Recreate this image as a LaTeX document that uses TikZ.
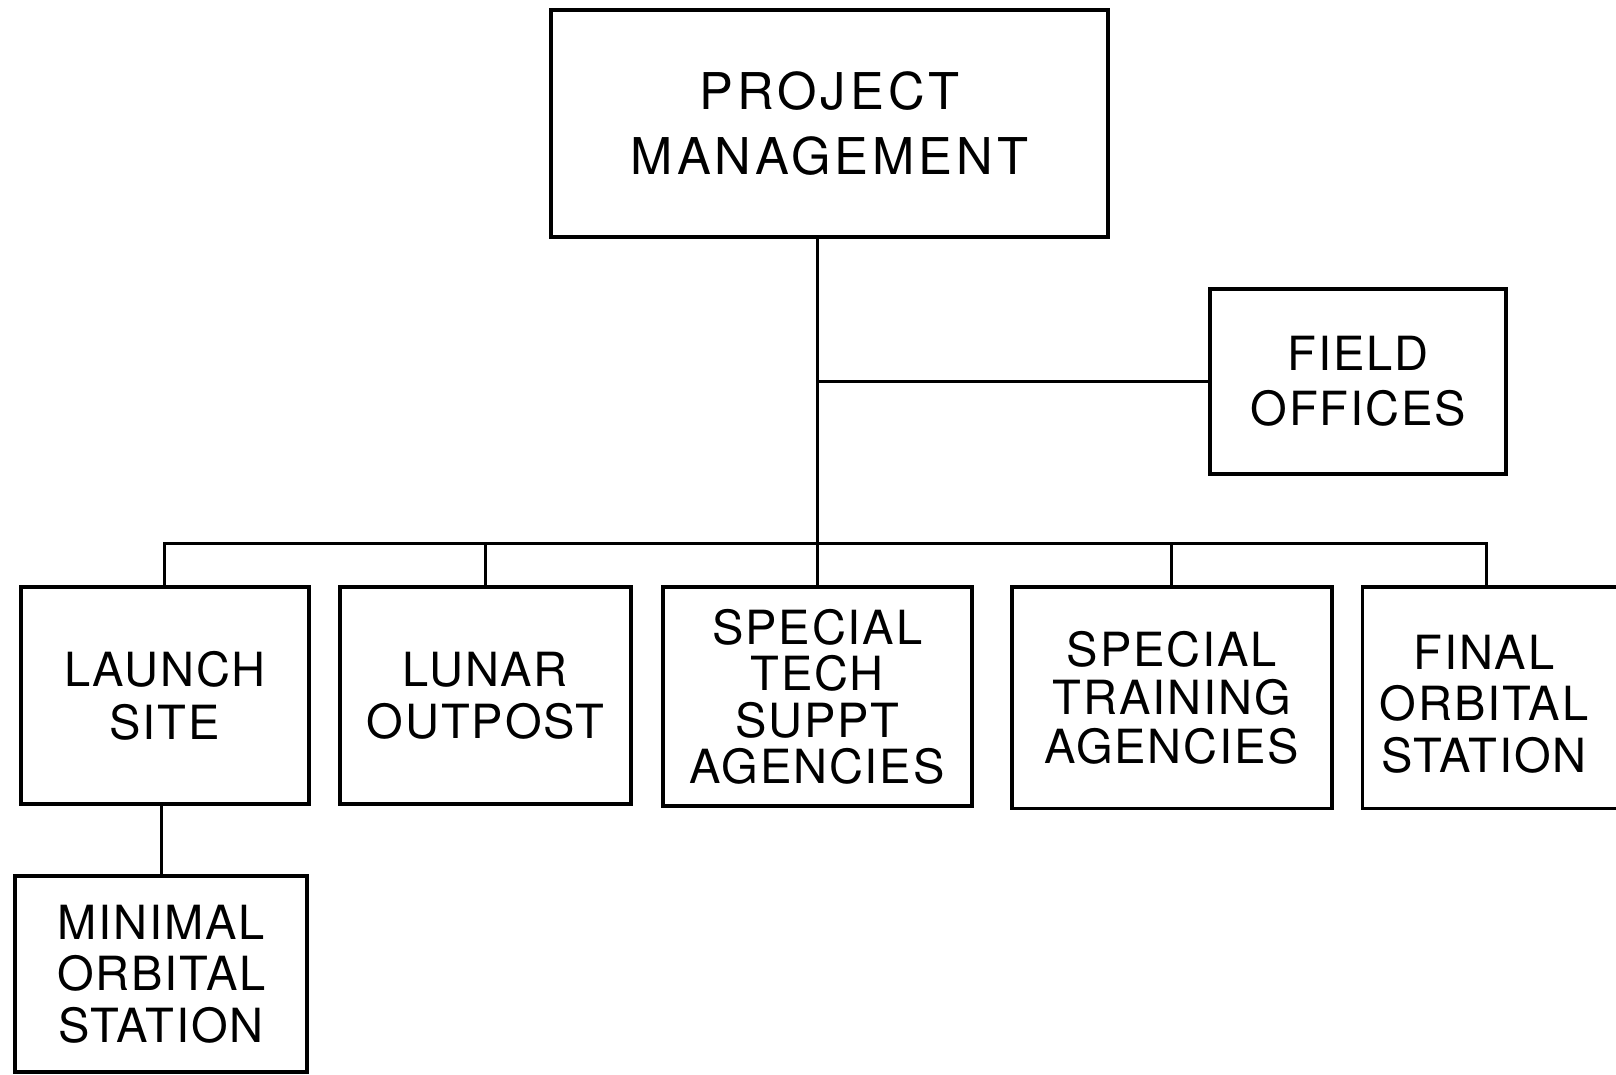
\documentclass[tikz,border=0pt]{standalone}
\usepackage{fontspec}
\usepackage{tikz}
\newfontfamily\chartfont[LetterSpace=4]{TeX Gyre Heros}
\newfontfamily\titlefont[LetterSpace=8]{TeX Gyre Heros}

\begin{document}
\begin{tikzpicture}[
  unit/.style={draw, line width=1.1pt, align=center, inner sep=0pt, font=\chartfont\fontsize{13}{14.5}\selectfont},
  tag/.style={align=center, inner sep=0pt, font=\chartfont\fontsize{13}{14.2}\selectfont},
  link/.style={line width=0.85pt}]
\useasboundingbox (0,0) rectangle (15.68,10.43);
\clip (0,0) rectangle (15.68,10.43);

\node[unit, minimum width=5.4cm, minimum height=2.2cm, font=\titlefont\fontsize{14}{18}\selectfont] (pm) at (8.05,9.23) {PROJECT\\MANAGEMENT};
\node[unit, minimum width=2.87cm, minimum height=1.8cm, font=\chartfont\fontsize{13}{15}\selectfont] (fo) at (13.18,6.73) {FIELD\\OFFICES};

\node[unit, minimum width=2.8cm, minimum height=2.1cm, font=\chartfont\fontsize{13}{14.8}\selectfont] (launch) at (1.60,3.68) {LAUNCH\\SITE};
\node[unit, minimum width=2.82cm, minimum height=2.1cm] (lunar) at (4.71,3.68) {LUNAR\\OUTPOST};
\node[unit, minimum width=3.0cm, minimum height=2.12cm, font=\chartfont\fontsize{13}{12.8}\selectfont] (tech) at (7.93,3.67) {SPECIAL\\TECH\\SUPPT\\AGENCIES};
\node[unit, minimum width=3.1cm, minimum height=2.15cm, font=\chartfont\fontsize{13}{13.4}\selectfont] (training) at (11.37,3.66) {SPECIAL\\TRAINING\\AGENCIES};
\node[unit, minimum width=2.7cm, minimum height=2.15cm, label={[tag, xshift=-1.7mm, yshift=-0.6mm]center:FINAL\\ORBITAL\\STATION}] (final) at (14.57,3.66) {};
\node[unit, minimum width=2.83cm, minimum height=1.9cm, font=\chartfont\fontsize{13}{14.2}\selectfont] (minimal) at (1.565,0.98) {MINIMAL\\ORBITAL\\STATION};

\coordinate (bus) at (7.93,5.16);
\draw[link] (pm.south -| bus) -- (tech.north);
\draw[link] (fo.west) -- (fo.west -| bus);
\draw[link] (launch.north) |- (bus) -| ([xshift=-1.5mm]final.north);
\draw[link] (lunar.north) -- (lunar.north |- bus);
\draw[link] (training.north) -- (training.north |- bus);
\draw[link] (launch.south -| minimal.north) -- (minimal.north);
\end{tikzpicture}
\end{document}
